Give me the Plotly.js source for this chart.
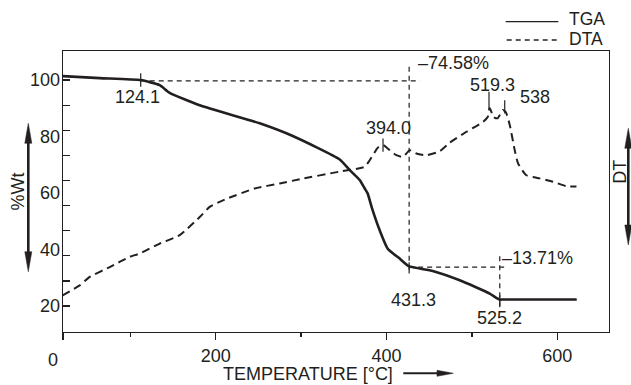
<!DOCTYPE html>
<html><head><meta charset="utf-8">
<script src="https://cdn.plot.ly/plotly-3.0.1.min.js"></script>
<style>html,body{margin:0;padding:0;background:#fff}#chart{width:631px;height:385px}</style>
</head><body><div id="chart"></div>
<script>
// ---- data ----
const tgaTemp = [20.8, 64.2, 112.2, 134.4, 146.1, 181.3, 251.5, 290.2, 345.2, 357.0, 368.6, 374.5, 378.0, 382.6, 392.0, 401.4, 415.4, 426.0, 454.1, 485.7, 520.8, 528.0, 532.6, 537.0, 622.7];
const tgaWt   = [101.4, 100.7, 100.0, 98.2, 95.5, 91.1, 84.7, 80.2, 71.9, 68.1, 64.6, 61.6, 59.8, 55.0, 46.8, 40.3, 36.8, 34.1, 32.4, 29.1, 24.4, 23.0, 22.3, 22.3, 22.3];

const dtaTemp = [20.8, 40.7, 52.5, 75.9, 99.3, 111.0, 134.4, 157.8, 181.3, 193.0, 210.5, 245.6, 275.0, 298.4, 345.2, 374.5, 380.3, 390.0, 395.9, 403.7, 411.6, 419.3, 427.2, 435.0, 446.7, 462.3, 474.0, 493.6, 513.0, 518.5, 520.8, 525.5, 530.2, 536.1, 539.6, 544.3, 550.1, 554.0, 563.8, 579.4, 595.0, 610.6, 622.4];
const dtaDT   = [23.8, 27.3, 30.3, 33.8, 37.4, 38.6, 42.1, 45.1, 51.5, 55.1, 57.7, 61.6, 63.4, 64.9, 67.6, 69.3, 71.6, 76.1, 77.0, 75.2, 73.4, 72.8, 75.2, 74.0, 73.4, 74.8, 77.8, 81.7, 85.2, 86.9, 90.1, 86.9, 86.5, 89.4, 88.7, 84.1, 75.2, 70.5, 66.3, 65.2, 64.0, 62.4, 62.3];

// dashed construction lines (segments separated by null)
const guideX = [112.2, 439.0, null, 426.5, 426.5, null, 426.5, 538.4, null, 532.6, 532.6];
const guideY = [99.75, 99.75, null, 104.7, 31.5, null, 33.8, 33.8, null, 37.6, 19.7];

// short solid marker ticks
const markX = [112.2, 112.2, null, 395.9, 395.9, null, 520.0, 520.0, null, 538.4, 538.4, null, 426.5, 426.5, null, 532.6, 532.6];
const markY = [102.4, 97.6, null, 79.3, 74.6, null, 95.9, 89.4, null, 92.9, 88.2, null, 35.5, 31.5, null, 23.8, 19.6];

// point labels
const labelText = ['124.1', '394.0', '519.3', '538', '431.3', '525.2'];
const labelX    = [109.0, 402.6, 524.0, 573.5, 431.5, 532.6];
const labelY    = [93.9, 82.9, 98.2, 94.1, 22.3, 15.9];
const stepText  = ['\u201374.58%', '\u201313.71%'];
const stepX     = [434.2, 533.4];
const stepY     = [105.9, 37.1];

const xTickVals = [21.2, 200, 400, 600];
const xTickText = ['', '200', '400', '600'];
const xMinor    = [100, 300, 500];
const yTickVals = [100, 80, 60, 40, 20];
const yMinor    = [100, 91.11, 82.22, 73.33, 64.44, 55.56, 46.67, 37.78, 28.89, 20];

// ---- styling ----
const ink = '#231f20';
const FONT = 'Liberation Sans, Arial, Helvetica, sans-serif';
const L = 63, R = 22, T = 51, B = 53, W = 631, H = 385;
const PW = W - L - R, PH = H - T - B;
const fx = p => (p - L) / PW;
const fy = p => (H - B - p) / PH;

const traces = [
  {x: tgaTemp, y: tgaWt, mode: 'lines', line: {color: ink, width: 2.6, shape: 'spline', smoothing: 0.5}, hoverinfo: 'skip'},
  {x: dtaTemp, y: dtaDT, mode: 'lines', line: {color: ink, width: 2, dash: '8px,5px', shape: 'spline', smoothing: 0.5}, hoverinfo: 'skip'},
  {x: guideX, y: guideY, mode: 'lines', line: {color: ink, width: 1.2, dash: '5px,4px'}, hoverinfo: 'skip'},
  {x: markX, y: markY, mode: 'lines', line: {color: ink, width: 1.2}, hoverinfo: 'skip'}
];

const annotations = [];
labelText.forEach((t, i) => annotations.push({x: labelX[i], y: labelY[i], xref: 'x', yref: 'y', text: t, showarrow: false, xanchor: 'center', yanchor: 'middle', font: {size: 18, color: ink, family: FONT}}));
stepText.forEach((t, i) => annotations.push({x: stepX[i], y: stepY[i], xref: 'x', yref: 'y', text: t, showarrow: false, xanchor: 'left', yanchor: 'middle', font: {size: 18, color: ink, family: FONT}}));
annotations.push({x: fx(53), y: fy(360), xref: 'paper', yref: 'paper', text: '0', showarrow: false, xanchor: 'center', yanchor: 'middle', font: {size: 18, color: ink, family: FONT}});
annotations.push({x: fx(307.5), y: fy(385), xref: 'paper', yref: 'paper', text: 'TEMPERATURE [°C]', showarrow: false, xanchor: 'center', yanchor: 'bottom', borderpad: 0, font: {size: 18, color: ink, family: FONT}});
annotations.push({x: fx(620), y: fy(171.7), xref: 'paper', yref: 'paper', text: 'DT', textangle: -90, showarrow: false, xanchor: 'center', yanchor: 'middle', font: {size: 18, color: ink, family: FONT}});
annotations.push({x: fx(568), y: fy(19.5), xref: 'paper', yref: 'paper', text: 'TGA', showarrow: false, xanchor: 'left', yanchor: 'middle', borderpad: 0, font: {size: 17.5, color: ink, family: FONT}});
annotations.push({x: fx(568), y: fy(38.8), xref: 'paper', yref: 'paper', text: 'DTA', showarrow: false, xanchor: 'left', yanchor: 'middle', borderpad: 0, font: {size: 17.5, color: ink, family: FONT}});

function vArrow(xp, y1, y2) {
  const hw = 3.5, hl = 20;
  return [
    {type: 'line', xref: 'paper', yref: 'paper', x0: fx(xp), x1: fx(xp), y0: fy(y1 + 12), y1: fy(y2 - 12), line: {color: ink, width: 2.6}},
    {type: 'path', xref: 'paper', yref: 'paper', fillcolor: ink, line: {color: ink, width: 0.5},
      path: `M${fx(xp)},${fy(y1)} L${fx(xp - hw)},${fy(y1 + hl)} L${fx(xp + hw)},${fy(y1 + hl)} Z`},
    {type: 'path', xref: 'paper', yref: 'paper', fillcolor: ink, line: {color: ink, width: 0.5},
      path: `M${fx(xp)},${fy(y2)} L${fx(xp - hw)},${fy(y2 - hl)} L${fx(xp + hw)},${fy(y2 - hl)} Z`}
  ];
}
const shapes = [
  ...vArrow(28.3, 123.3, 271.7),
  ...vArrow(628.3, 128.3, 245),
  {type: 'line', xref: 'paper', yref: 'paper', x0: fx(403.3), x1: fx(441), y0: fy(373.3), y1: fy(373.3), line: {color: ink, width: 2}},
  {type: 'path', xref: 'paper', yref: 'paper', fillcolor: ink, line: {color: ink, width: 0.5},
    path: `M${fx(453.3)},${fy(373.3)} L${fx(437)},${fy(370.3)} L${fx(437)},${fy(376.3)} Z`},
  {type: 'line', xref: 'paper', yref: 'paper', x0: fx(505.7), x1: fx(558.3), y0: fy(21.7), y1: fy(21.7), line: {color: ink, width: 1.3}},
  {type: 'line', xref: 'paper', yref: 'paper', x0: fx(506.7), x1: fx(558.3), y0: fy(40), y1: fy(40), line: {color: ink, width: 1.3, dash: '5px,4px'}}
];

const layout = {
  width: W, height: H,
  margin: {l: L, r: R, t: T, b: B, pad: 0},
  paper_bgcolor: '#fff', plot_bgcolor: '#fff',
  showlegend: false,
  font: {family: FONT, size: 18, color: ink},
  xaxis: {
    range: [21.2, 660.5], showgrid: false, zeroline: false,
    showline: true, mirror: true, linecolor: ink, linewidth: 1.3,
    tickmode: 'array', tickvals: xTickVals, ticktext: xTickText,
    ticks: 'outside', ticklen: 7, tickwidth: 1.3, tickcolor: ink,
    tickfont: {size: 18, color: ink, family: FONT},
    minor: {tickmode: 'array', tickvals: xMinor, ticks: 'outside', ticklen: 3.5, tickwidth: 1.3, tickcolor: ink, showgrid: false}
  },
  yaxis: {
    range: [10.8, 110.3], showgrid: false, zeroline: false,
    showline: true, mirror: true, linecolor: ink, linewidth: 1.3,
    tickmode: 'array', tickvals: yTickVals, ticks: '', ticklabelstandoff: -2,
    tickfont: {size: 18, color: ink, family: FONT},
    minor: {tickmode: 'array', tickvals: yMinor, ticks: 'inside', ticklen: 7, tickwidth: 1.3, tickcolor: ink, showgrid: false},
    title: {text: '%Wt', font: {size: 18, color: ink, family: FONT}, standoff: 0}
  },
  annotations: annotations,
  shapes: shapes
};

Plotly.newPlot('chart', traces, layout, {staticPlot: true, displayModeBar: false});
</script>
</body></html>
